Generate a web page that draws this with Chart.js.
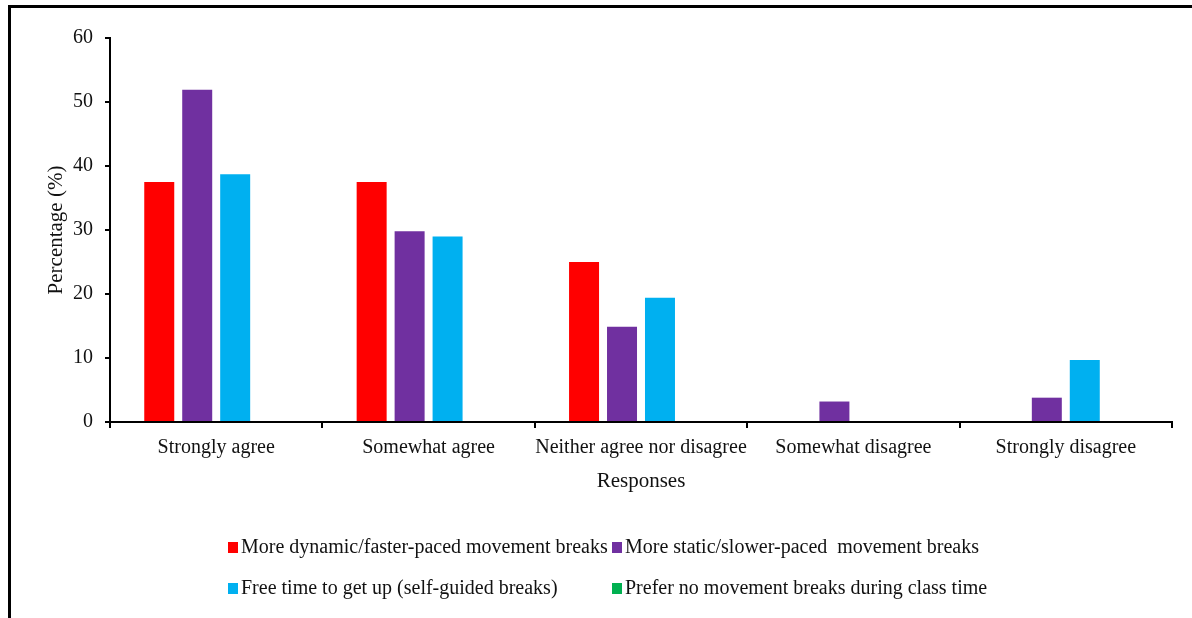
<!DOCTYPE html>
<html>
<head>
<meta charset="utf-8">
<script src="https://cdn.jsdelivr.net/npm/chart.js@4"></script>
<style>
  html, body { margin: 0; padding: 0; background: #fff; }
  #wrap { position: relative; width: 1192px; height: 618px; overflow: hidden; }
  #frame { position: absolute; left: 8px; top: 5px; width: 1300px; height: 700px;
           border-left: 3px solid #000; border-top: 3px solid #000; pointer-events: none; }
</style>
</head>
<body>
<div id="wrap">
  <canvas id="myChart" width="1192" height="618"></canvas>
  <div id="frame"></div>
</div>
<script>
// categories on the x axis
const categories = ['Strongly agree', 'Somewhat agree', 'Neither agree nor disagree', 'Somewhat disagree', 'Strongly disagree'];

// series (percent)
const seriesNames = [
  'More dynamic/faster-paced movement breaks',
  'More static/slower-paced  movement breaks',
  'Free time to get up (self-guided breaks)',
  'Prefer no movement breaks during class time'
];
const dynamicVals = [37.5, 37.5, 25.0, 0, 0];
const staticVals = [51.9, 29.8, 14.9, 3.2, 3.8];
const freeVals = [38.7, 29.0, 19.4, 0, 9.7];
const noBreakVals = [0, 0, 0, 0, 0];
const colorHex = ['#FF0000', '#7030A0', '#00B0F0', '#00B050'];

// y ticks
const yMin = 0, yMax = 60, yStep = 10;

const FONT = 'Liberation Serif';

// legend in two columns, drawn on the canvas
const gridLegend = {
  id: 'gridLegend',
  afterDraw(chart) {
    const ctx = chart.ctx;
    const cols = [228, 612];
    const rows = [548, 589];
    ctx.save();
    ctx.font = '20px "' + FONT + '"';
    ctx.textBaseline = 'middle';
    ctx.textAlign = 'left';
    chart.data.datasets.forEach((ds, i) => {
      let x = cols[i % 2];
      let y = rows[Math.floor(i / 2)];
      ctx.fillStyle = ds.backgroundColor;
      ctx.fillRect(x, y - 6, 10, 11);
      ctx.fillStyle = '#111';
      ctx.fillText(ds.label, x + 13, y);
    });
    ctx.restore();
  }
};

let ctx = document.getElementById('myChart').getContext('2d');
let datasets = [dynamicVals, staticVals, freeVals, noBreakVals].map((vals, i) => ({
  label: seriesNames[i],
  data: vals,
  backgroundColor: colorHex[i],
  borderWidth: 0
}));

let myChart = new Chart(ctx, {
  type: 'bar',
  data: { labels: categories, datasets: datasets },
  plugins: [gridLegend],
  options: {
    responsive: false,
    animation: false,
    datasets: { bar: { categoryPercentage: 0.715, barPercentage: 0.79 } },
    layout: { padding: { left: 0, top: 38, right: 20, bottom: 116 } },
    plugins: { legend: { display: false }, tooltip: { enabled: false } },
    scales: {
      x: {
        afterFit: (s) => { s.height = 80; },
        border: { color: '#000', width: 2 },
        grid: { display: true, drawOnChartArea: false, offset: true, color: '#000', lineWidth: 2, tickLength: 6 },
        ticks: { color: '#111', padding: 8, autoSkip: false, maxRotation: 0, font: { family: FONT, size: 20 } },
        title: { display: true, text: 'Responses', color: '#111', padding: { top: 0, bottom: 8 }, font: { family: FONT, size: 21 } }
      },
      y: {
        min: yMin,
        max: yMax,
        afterFit: (s) => { s.width = 110; },
        border: { color: '#000', width: 2 },
        grid: { display: true, drawOnChartArea: false, color: '#000', lineWidth: 2, tickLength: 5 },
        ticks: { stepSize: yStep, color: '#111', padding: 12, font: { family: FONT, size: 20 } },
        title: { display: true, text: 'Percentage (%)', color: '#111', padding: { top: 44, bottom: 0 }, font: { family: FONT, size: 21 } }
      }
    }
  }
});
</script>
</body>
</html>
